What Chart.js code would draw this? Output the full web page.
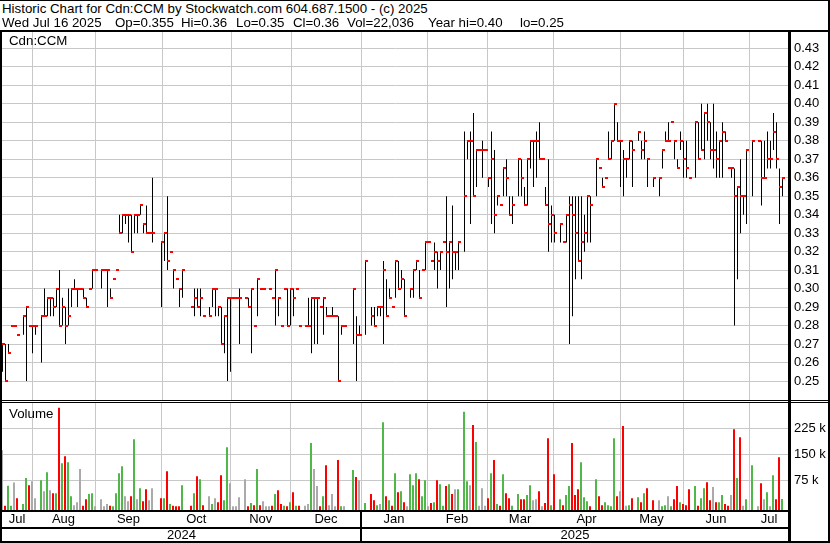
<!DOCTYPE html>
<html>
<head>
<meta charset="utf-8">
<title>Historic Chart for Cdn:CCM</title>
<script src="https://cdn.jsdelivr.net/npm/chart.js@4.4.1/dist/chart.umd.min.js"></script>
<style>
  html, body { margin:0; padding:0; background:#fff; }
  #wrap { position:relative; width:830px; height:543px; overflow:hidden; background:#fff;
          font-family:"Liberation Sans", Arial, sans-serif; color:#000; }
  .txt { position:absolute; font-size:13.3px; line-height:14px; white-space:pre; }
  .ln { position:absolute; background:#000; }
  canvas { position:absolute; display:block; }
</style>
</head>
<body>
<div id="wrap">
  <canvas id="priceCanvas" width="828" height="368" style="left:2px;top:32px;width:828px;height:368px"></canvas>
  <canvas id="volCanvas" width="828" height="140" style="left:2px;top:403px;width:828px;height:140px"></canvas>

  <div class="txt" style="left:2px;top:2px">Historic Chart for Cdn:CCM by Stockwatch.com 604.687.1500 - (c) 2025</div>
  <div class="txt" style="left:2px;top:16px">Wed Jul 16 2025</div>
  <div class="txt" style="left:115px;top:16px">Op=0.355</div>
  <div class="txt" style="left:181px;top:16px">Hi=0.36</div>
  <div class="txt" style="left:236px;top:16px">Lo=0.35</div>
  <div class="txt" style="left:293px;top:16px">Cl=0.36</div>
  <div class="txt" style="left:347px;top:16px">Vol=22,036</div>
  <div class="txt" style="left:428px;top:16px">Year hi=0.40</div>
  <div class="txt" style="left:520px;top:16px">lo=0.25</div>
  <div class="txt" style="left:9px;top:34px">Cdn:CCM</div>
  <div class="txt" style="left:9px;top:407px">Volume</div>

  <div class="ln" style="left:0;top:0;width:830px;height:1px"></div>
  <div class="ln" style="left:0;top:30px;width:830px;height:2px"></div>
  <div class="ln" style="left:0;top:30px;width:2px;height:513px"></div>
  <div class="ln" style="left:828px;top:0;width:2px;height:543px"></div>
  <div class="ln" style="left:788px;top:32px;width:3px;height:511px"></div>
  <div class="ln" style="left:0;top:400px;width:830px;height:1px"></div>
  <div class="ln" style="left:0;top:402px;width:830px;height:1px"></div>
  <div class="ln" style="left:0;top:510px;width:790px;height:2px"></div>
  <div class="ln" style="left:0;top:527px;width:790px;height:2px"></div>
  <div class="ln" style="left:0;top:541px;width:830px;height:2px"></div>
</div>

<script>
// ---------------- data (one slot per weekday, Jul 17 2024 .. Jul 16 2025) ----------------
const highs = [
  .27,.27,.27,.28,.28,.275,null,.285,.29,.28,
  .28,.28,null,.285,.30,.295,.295,.295,.30,.31,
  .295,.29,.30,.30,.305,.30,.30,.30,.295,.30,
  .31,.31,null,.31,.31,.31,.30,.305,.31,.34,
  .34,.34,.34,.34,.34,.34,.345,.335,.345,.33,
  .36,null,null,.325,.33,.35,.32,.31,.305,.30,
  .31,null,null,.29,.30,.30,.30,.285,null,.29,
  .30,.30,.29,.29,.285,.295,.295,.295,.295,.30,
  null,.295,.295,.30,.28,.305,.30,.30,null,.30,
  .295,.31,.295,.28,.30,.30,.30,.30,.30,.28,
  null,.28,.295,.295,.295,.295,.29,.295,.29,.285,
  .29,.285,.285,.28,.28,null,null,.30,.285,.28,
  null,.315,null,.29,.29,.29,.29,.315,.305,.30,
  .29,.315,.315,.31,.305,null,.30,.31,.315,.31,
  .31,.325,.325,.315,.325,.32,.32,.325,.35,.325,
  .345,.32,.325,null,.385,.38,.385,.395,.375,.375,
  .38,.375,.36,.385,.375,.35,.345,.365,.37,.35,
  .35,null,.37,.37,.355,.37,.38,.38,.385,.39,
  .37,.355,.37,.345,.34,null,.335,.325,.34,.35,
  .35,.35,.35,.35,.34,.35,.35,null,.37,.365,
  .36,.36,.385,.38,.40,.39,.38,.375,.37,.38,
  .38,null,.385,.38,.385,.37,null,.36,null,.36,
  .375,.385,.39,.39,.38,.37,.385,.38,.38,.36,
  null,.39,.39,.40,.395,.40,.39,.40,.385,.38,
  .39,.385,.365,.365,.365,.355,.37,.35,.375,null,
  .38,null,.38,.38,.38,.385,.38,.395,.39,.365,
  .36
];
const lows = [
  .255,.25,.265,.28,.28,.275,null,.275,.25,.28,
  .265,.275,null,.26,.285,.285,.285,.285,.29,.28,
  .28,.27,.28,.29,.30,.29,.30,.295,.29,.30,
  .30,.31,null,.30,.31,.29,.295,.305,.31,.33,
  .33,.335,.325,.32,.33,.33,.34,.33,.33,.33,
  .325,null,null,.29,.315,.31,.32,.30,.305,.29,
  .295,null,null,.29,.285,.29,.285,.285,null,.285,
  .29,.285,.285,.27,.265,.25,.255,.295,.295,.27,
  null,.295,.29,.265,.28,.285,.30,.30,null,.30,
  .295,.28,.285,.28,.30,.28,.28,.285,.30,.28,
  null,.28,.28,.265,.27,.27,.29,.275,.285,.285,
  .285,.285,.25,.275,.28,null,null,.27,.25,.275,
  null,.275,null,.28,.28,.285,.285,.27,.285,.295,
  .29,.295,.30,.30,.285,null,.295,.295,.31,.295,
  .31,.31,.325,.315,.31,.30,.31,.325,.29,.30,
  .305,.31,.31,null,.32,.37,.335,.35,.355,.375,
  .36,.375,.355,.335,.33,.345,.345,.35,.35,.34,
  .335,null,.35,.35,.345,.345,.365,.355,.36,.37,
  .37,.345,.32,.325,.325,null,.325,.325,.325,.27,
  .285,.305,.315,.305,.32,.325,.325,null,.35,.365,
  .355,.36,.37,.37,.38,.38,.355,.35,.36,.37,
  .355,null,.38,.37,.37,.355,null,.355,null,.35,
  .365,.38,.38,.39,.37,.365,.375,.36,.36,.36,
  null,.36,.37,.375,.37,.38,.37,.365,.36,.36,
  .36,.38,.365,.36,.28,.305,.33,.34,.335,null,
  .35,null,.38,.345,.36,.365,.365,.375,.365,.335,
  .35
];
const closes = [
  .27,.25,.265,.28,.28,.275,null,.285,.29,.28,
  .28,.28,null,.285,.285,.295,.295,.29,.30,.28,
  .29,.28,.285,.30,.30,.30,.30,.295,.29,.30,
  .31,.31,null,.31,.31,.31,.295,.305,.31,.33,
  .34,.34,.34,.32,.34,.34,.345,.335,.33,.33,
  .33,null,null,.325,.33,.315,.32,.31,.305,.30,
  .31,null,null,.29,.295,.29,.295,.285,null,.285,
  .30,.30,.29,.27,.285,.295,.295,.295,.295,.295,
  null,.295,.29,.30,.28,.305,.30,.30,null,.30,
  .295,.31,.295,.28,.30,.28,.30,.295,.30,.28,
  null,.28,.28,.295,.295,.295,.29,.295,.285,.285,
  .285,.285,.25,.28,.28,null,null,.30,.275,.275,
  null,.315,null,.285,.28,.29,.29,.31,.285,.295,
  .29,.315,.30,.305,.285,null,.30,.31,.315,.295,
  .31,.325,.325,.315,.32,.315,.32,.325,.32,.325,
  .32,.32,.325,null,.35,.38,.38,.35,.375,.375,
  .375,.375,.36,.37,.34,.35,.345,.365,.36,.34,
  .345,null,.37,.36,.345,.37,.38,.38,.38,.37,
  .37,.345,.335,.34,.33,null,.335,.325,.34,.345,
  .34,.33,.315,.325,.33,.35,.345,null,.37,.365,
  .355,.36,.37,.38,.40,.38,.38,.37,.37,.38,
  .375,null,.385,.375,.38,.37,null,.36,null,.36,
  .375,.38,.38,.39,.38,.365,.38,.37,.365,.36,
  null,.39,.37,.375,.395,.39,.375,.375,.37,.38,
  .385,.38,.365,.365,.35,.355,.35,.35,.375,null,
  .38,null,.38,.36,.36,.37,.37,.385,.37,.355,
  .36
];
const volumes = [
  162000,2000,60000,2000,69000,24000,null,7000,82000,61000,
  73000,24000,null,76000,44000,99000,47000,38000,38000,285000,
  125000,145000,128000,30000,4000,12000,108000,2000,21000,36000,
  38000,1000,null,21000,1000,7000,2000,1000,38000,96000,
  116000,30000,15000,30000,194000,21000,53000,15000,50000,18000,
  53000,null,null,24000,24000,102000,7000,2000,1000,1000,
  61000,null,null,2000,38000,87000,79000,4000,null,30000,
  7000,24000,12000,90000,18000,171000,67000,1000,1000,27000,
  null,79000,1000,10000,4000,108000,4000,15000,1000,1000,
  2000,36000,47000,7000,2000,1000,12000,41000,2000,2000,
  null,2000,7000,183000,108000,59000,1000,30000,119000,4000,
  36000,1000,134000,1000,1000,null,null,105000,85000,76000,
  null,10000,null,36000,18000,4000,7000,243000,30000,18000,
  2000,96000,41000,44000,12000,1000,93000,61000,96000,79000,
  30000,76000,1000,10000,12000,76000,64000,2000,59000,64000,
  36000,50000,50000,null,273000,73000,61000,235000,186000,2000,
  53000,2000,24000,96000,134000,7000,2000,93000,38000,24000,
  2000,null,36000,21000,21000,33000,61000,18000,21000,44000,
  1000,10000,197000,4000,93000,null,21000,4000,33000,59000,
  183000,33000,50000,128000,27000,15000,1000,null,79000,30000,
  4000,12000,4000,1000,197000,30000,44000,232000,2000,4000,
  24000,null,27000,12000,38000,53000,null,18000,null,18000,
  1000,4000,30000,1000,21000,59000,12000,7000,4000,50000,
  null,59000,2000,24000,53000,70000,18000,56000,12000,12000,
  33000,7000,2000,33000,223000,82000,200000,2000,21000,null,
  119000,null,1000,67000,21000,41000,1000,90000,21000,142000,
  22036
];
const monthLabels = ['Jul','Aug','Sep','Oct','Nov','Dec','Jan','Feb','Mar','Apr','May','Jun','Jul'];
const monthGrid   = [10, 31, 53.33, 76.17, 96.33, 119.67, 141.67, 161.67, 183.67, 206, 227, 249]; // slot of each month boundary
const yearLabels  = ['2024','2025'];
const yearBoundary = 5;            // index in monthGrid where the year changes
const priceTicks  = [0.25,0.26,0.27,0.28,0.29,0.30,0.31,0.32,0.33,0.34,0.35,0.36,0.37,0.38,0.39,0.40,0.41,0.42,0.43];
const volumeTicks = [75000,150000,225000];

// ---------------- styling / layout constants ----------------
const UP = '#50b848', DOWN = '#ff0000', FLAT = '#aaaaaa';
const GRID = '#c8c8c8';
const FONT = { family: '"Liberation Sans", Arial, sans-serif', size: 13 };
const AXIS_W = 41;

// ---------------- build library datasets ----------------
const hlData = [], closeData = [], volData = [], volColors = [];
let prevClose = null;
for (let i = 0; i < highs.length; i++) {
  if (highs[i] !== null) {
    hlData.push({ x: i, y: [lows[i], highs[i]] });
    closeData.push({ x: i, y: closes[i] });
  }
  if (volumes[i] !== null) {
    let c = FLAT;
    if (closes[i] !== null && prevClose !== null) {
      c = closes[i] > prevClose + 1e-9 ? UP : (closes[i] < prevClose - 1e-9 ? DOWN : FLAT);
    }
    volData.push({ x: i, y: volumes[i] });
    volColors.push(c);
  }
  if (closes[i] !== null) prevClose = closes[i];
}

// red close tick (starts at the bar and extends to the right)
const tick = document.createElement('canvas');
tick.width = 9; tick.height = 2;
const tctx = tick.getContext('2d');
tctx.fillStyle = '#ff0000';
tctx.fillRect(4, 0, 3, 2);

function zeroPad(s) { s.paddingLeft = 0; s.paddingRight = 0; s.paddingTop = 0; s.paddingBottom = 0; }

const crisp = {
  id: 'crisp',
  beforeDatasetsDraw(chart) { chart.ctx.imageSmoothingEnabled = false; }
};

const common = {
  responsive: false, animation: false, events: [], devicePixelRatio: 1,
  plugins: { legend: { display: false }, tooltip: { enabled: false } }
};

// ---------------- price chart ----------------
new Chart(document.getElementById('priceCanvas'), {
  type: 'bar',
  data: {
    datasets: [
      { type: 'line', data: closeData, showLine: false, pointStyle: tick, pointRadius: 1, order: 0 },
      { type: 'bar', data: hlData, backgroundColor: '#000', borderWidth: 0, barThickness: 1, inflateAmount: 0, order: 1 }
    ]
  },
  options: Object.assign({}, common, {
    layout: { padding: 0, autoPadding: false },
    scales: {
      x: {
        type: 'linear', min: -1/6, max: 262 + 1/6, offset: false,
        grid: { offset: false, color: GRID, lineWidth: 1, drawTicks: false },
        border: { display: false }, ticks: { display: false },
        afterBuildTicks: s => { s.ticks = monthGrid.map(v => ({ value: v })); },
        afterFit: s => { s.height = 0; zeroPad(s); }
      },
      y: {
        position: 'right', min: 0.25 - 19/1848, max: 0.25 + 349/1848,
        grid: { color: GRID, lineWidth: 1, drawTicks: false },
        border: { display: false },
        ticks: { padding: 5, color: '#000', font: FONT, callback: v => Number(v).toFixed(2) },
        afterBuildTicks: s => { s.ticks = priceTicks.map(v => ({ value: v })); },
        afterFit: s => { s.width = AXIS_W; zeroPad(s); }
      }
    }
  }),
  plugins: [crisp]
});

// ---------------- volume chart + time axis ----------------
const timeAxis = {
  id: 'timeAxis',
  afterDraw(chart) {
    const { ctx, chartArea } = chart;
    const x = chart.scales.x;
    const edges = [chartArea.left].concat(monthGrid.map(v => x.getPixelForValue(v)), [chartArea.right]);
    ctx.save();
    ctx.fillStyle = '#000';
    ctx.font = '13px "Liberation Sans", Arial, sans-serif';
    ctx.textAlign = 'center';
    ctx.textBaseline = 'alphabetic';
    monthLabels.forEach((m, i) => ctx.fillText(m, (edges[i] + edges[i + 1]) / 2, chartArea.bottom + 13));
    const yb = edges[yearBoundary + 1];
    const ye = [chartArea.left, yb, chartArea.right];
    yearLabels.forEach((y, i) => ctx.fillText(y, (ye[i] + ye[i + 1]) / 2, chartArea.bottom + 29));
    ctx.fillRect(Math.round(yb) - 1, chartArea.bottom, 2, 31);
    ctx.restore();
  }
};

const VMIN = -10000, VMAX = 298500;
new Chart(document.getElementById('volCanvas'), {
  type: 'bar',
  data: {
    datasets: [
      { data: volData, backgroundColor: volColors, borderWidth: 0, barThickness: 2, inflateAmount: 0, base: VMIN }
    ]
  },
  options: Object.assign({}, common, {
    layout: { padding: { left: 0, right: 0, top: 0, bottom: 33 }, autoPadding: false },
    scales: {
      x: {
        type: 'linear', min: 0, max: 262 + 1/3, offset: false,
        grid: { offset: false, color: GRID, lineWidth: 1, drawTicks: false },
        border: { display: false }, ticks: { display: false },
        afterBuildTicks: s => { s.ticks = monthGrid.map(v => ({ value: v })); },
        afterFit: s => { s.height = 0; zeroPad(s); }
      },
      y: {
        position: 'right', min: VMIN, max: VMAX,
        grid: { color: GRID, lineWidth: 1, drawTicks: false },
        border: { display: false },
        ticks: { padding: 5, color: '#000', font: FONT, callback: v => (v / 1000) + ' k' },
        afterBuildTicks: s => { s.ticks = volumeTicks.map(v => ({ value: v })); },
        afterFit: s => { s.width = AXIS_W; zeroPad(s); }
      }
    }
  }),
  plugins: [timeAxis]
});
</script>
</body>
</html>
